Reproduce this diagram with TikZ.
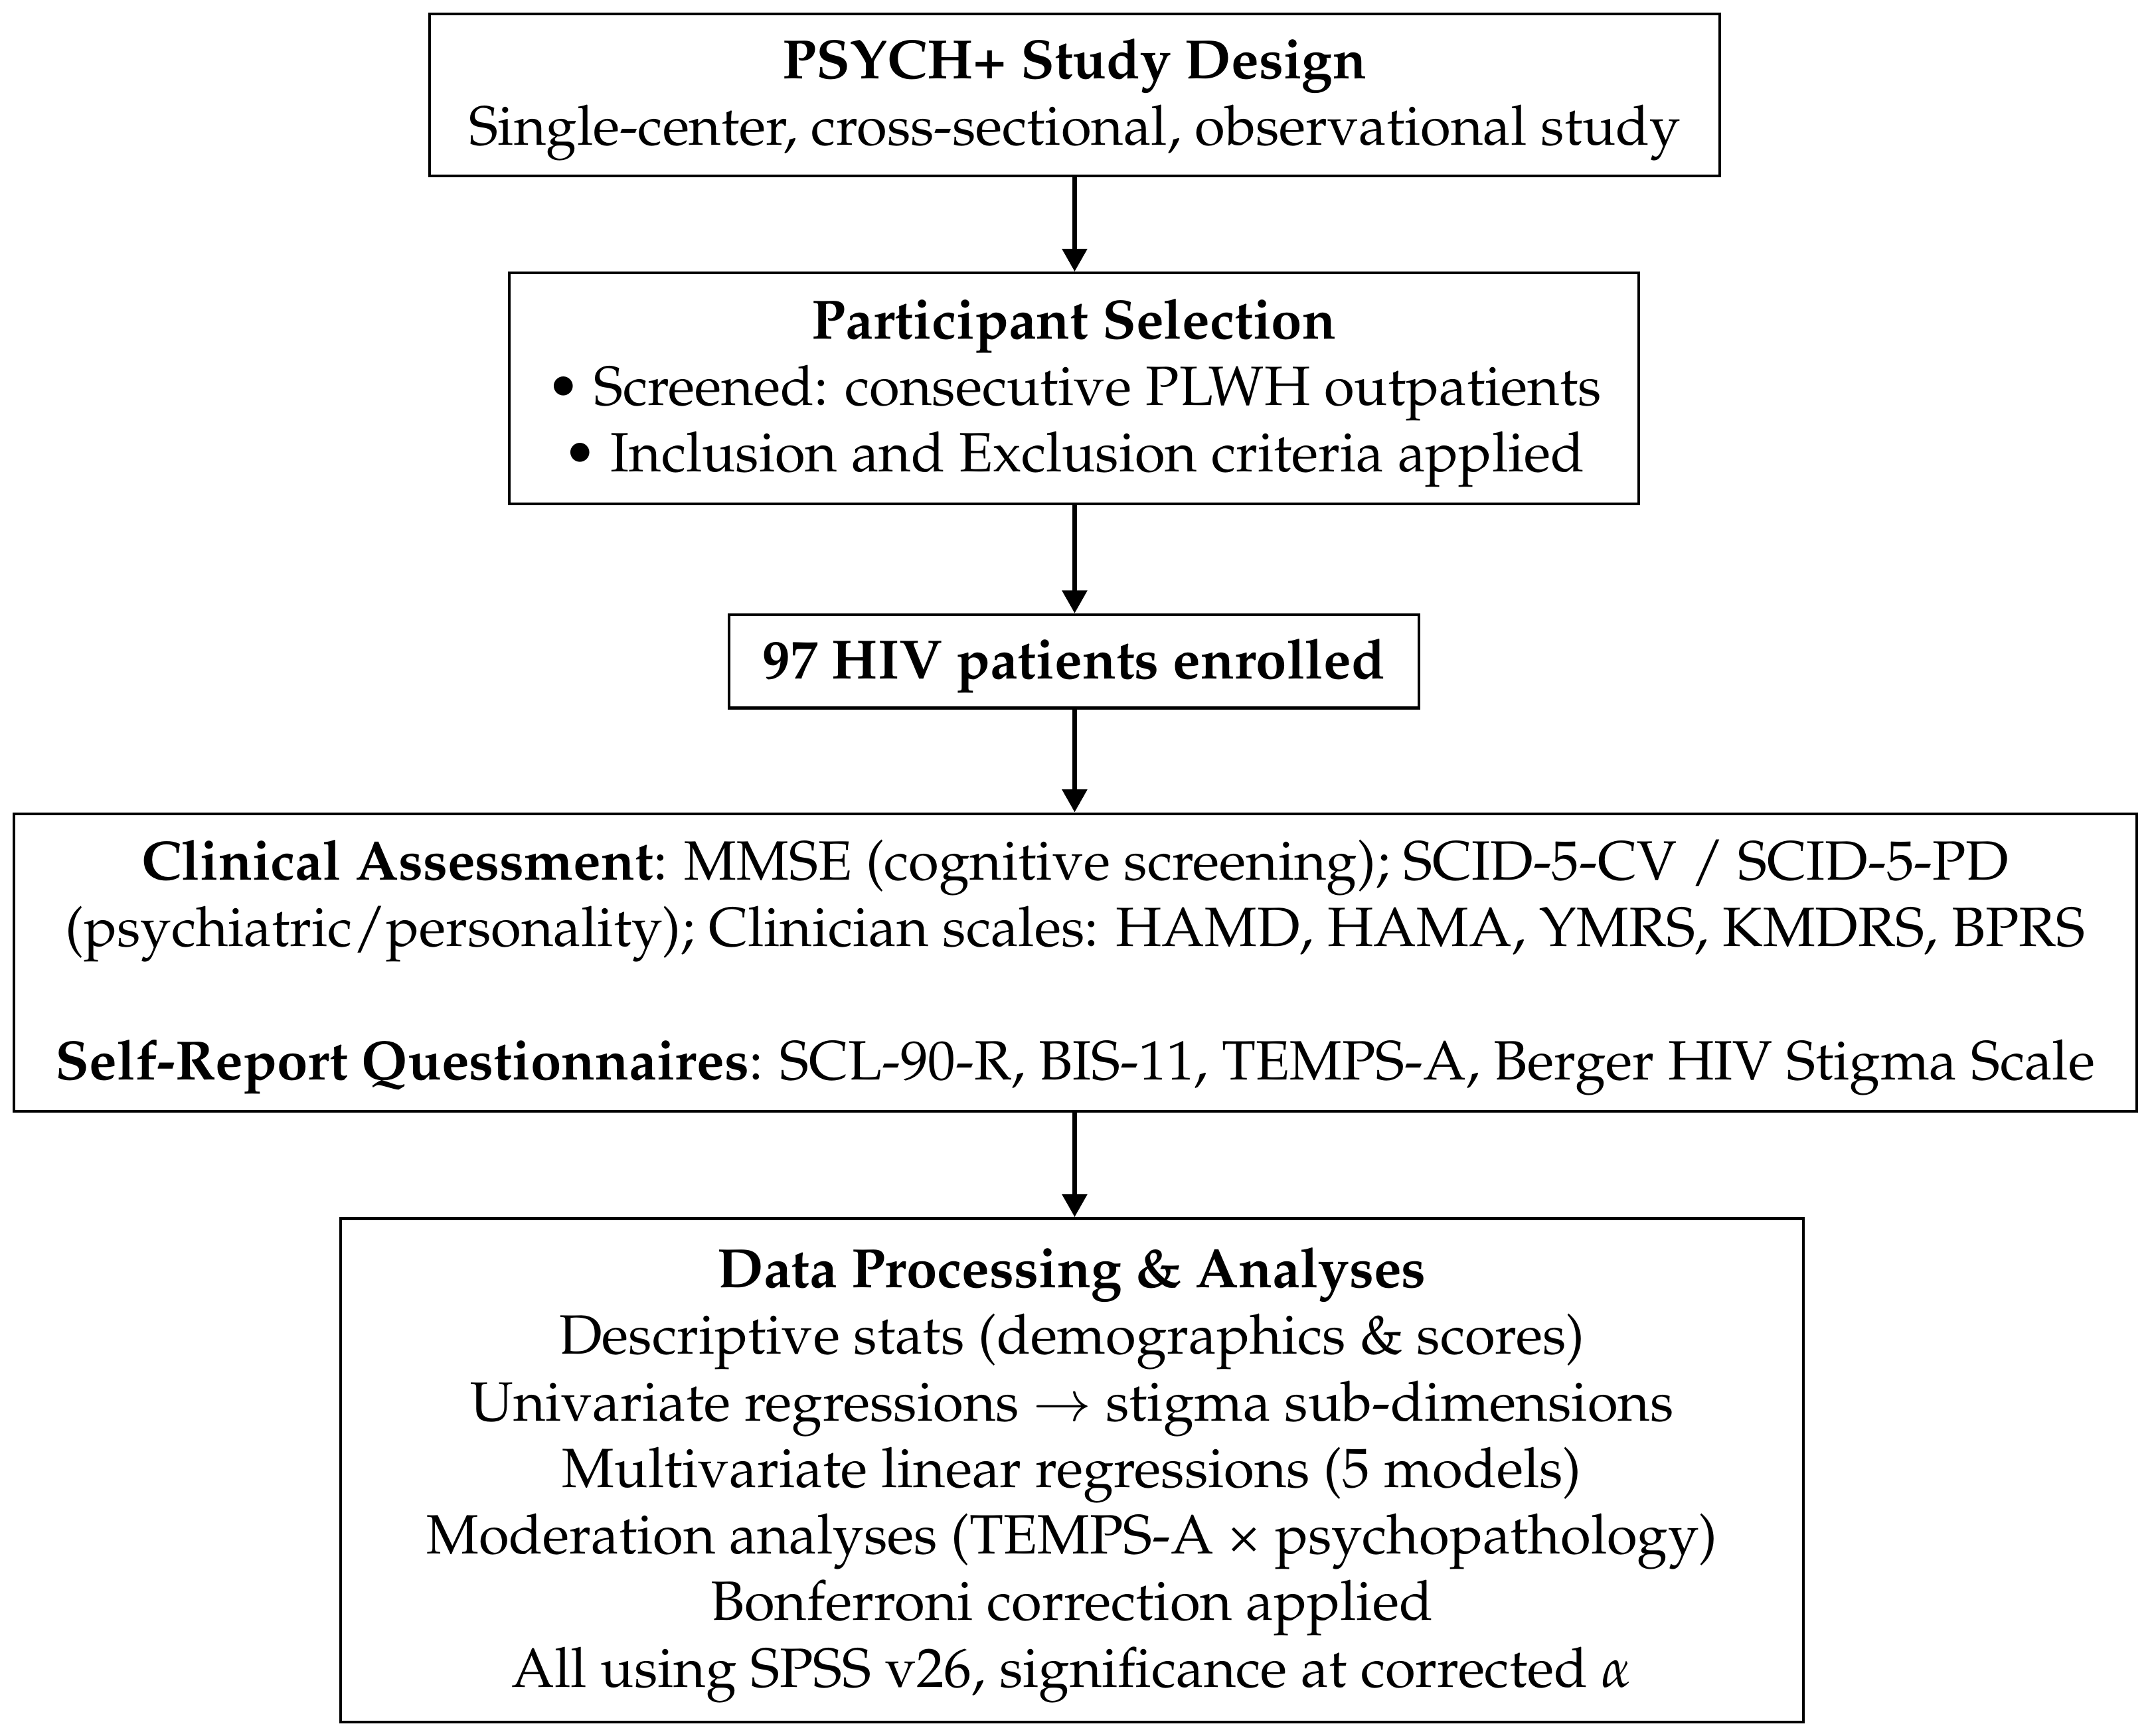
\documentclass[tikz,border=0pt]{standalone}
\usepackage[T1]{fontenc}
\usepackage{mathpazo}
\usetikzlibrary{arrows.meta}
\begin{document}
\begin{tikzpicture}[x=0.6pt,y=-0.6pt,
  box/.style={draw,line width=1.2pt,inner sep=0pt},
  txt/.style={inner sep=0pt,align=center,yshift=-2.1pt,
    font=\fontsize{24.2}{29.1}\selectfont},
  arr/.style={line width=2.3pt,-{Triangle[length=10pt,width=10.5pt]}}]
\useasboundingbox (0,0) rectangle (1568,1265);
\node[box,minimum width=564pt,minimum height=70.8pt] (b1) at (783,69) {};
\node[txt] (t1) at (b1.center)
  {\textbf{PSYCH+ Study Design}\\Single-center, cross-sectional, observational study};
\node[box,minimum width=493.8pt,minimum height=100.8pt] (b2) at (782.5,283) {};
\node[txt] (t2) at (b2.center)
  {\textbf{Participant Selection}\\\textbullet{} Screened: consecutive PLWH outpatients\\\textbullet{} Inclusion and Exclusion criteria applied};
\node[box,minimum width=301.8pt,minimum height=40.8pt] (b3) at (782.5,482) {};
\node[txt] (t3) at (b3.center) {\textbf{97 HIV patients enrolled}};
\node[box,minimum width=928.2pt,minimum height=130.2pt] (b4) at (783.5,701.5) {};
\node[txt] (t4) at (b4.center)
  {\textbf{Clinical Assessment}: MMSE (cognitive screening); SCID-5-CV / SCID-5-PD\\(psychiatric/personality); Clinician scales: HAMD, HAMA, YMRS, KMDRS, BPRS\\[29.1pt]\textbf{Self-Report Questionnaires}: SCL-90-R, BIS-11, TEMPS-A, Berger HIV Stigma Scale};
\node[box,minimum width=639.6pt,minimum height=220.2pt] (b5) at (781,1071.5) {};
\node[txt] (t5) at (b5.center)
  {\textbf{Data Processing \& Analyses}\\Descriptive stats (demographics \& scores)\\Univariate regressions $\rightarrow$ stigma sub-dimensions\\Multivariate linear regressions (5 models)\\Moderation analyses (TEMPS-A \texttimes{} psychopathology)\\Bonferroni correction applied\\All using SPSS v26, significance at corrected $\alpha$};
\coordinate (a) at (783,0);
\draw[arr] (b1.south -| a) -- (b2.north -| a);
\draw[arr] (b2.south -| a) -- (b3.north -| a);
\draw[arr] (b3.south -| a) -- (b4.north -| a);
\draw[arr] (b4.south -| a) -- (b5.north -| a);
\end{tikzpicture}
\end{document}
